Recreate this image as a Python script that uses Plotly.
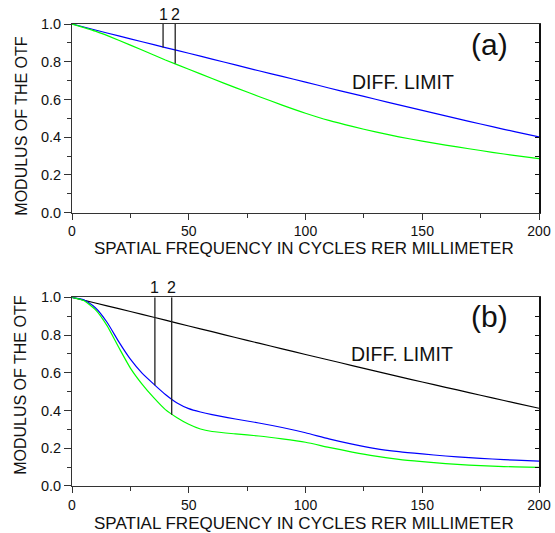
import plotly.graph_objects as go

FONT = "Liberation Sans, Arial, sans-serif"

# ---------------- data ----------------
freq = [0, 10, 20, 30, 40, 50, 60, 70, 80, 90, 100, 110, 120, 130, 140, 150, 160, 170, 180, 190, 200]

# panel (a)
a_diff = [1.0, 0.968, 0.937, 0.906, 0.875, 0.845, 0.814, 0.783, 0.752, 0.722, 0.692,
          0.661, 0.631, 0.601, 0.571, 0.542, 0.513, 0.484, 0.456, 0.428, 0.402]
a_green = [1.0, 0.962, 0.914, 0.862, 0.809, 0.760, 0.711, 0.663, 0.616, 0.570, 0.527,
           0.489, 0.457, 0.428, 0.402, 0.379, 0.358, 0.339, 0.320, 0.302, 0.286]

# panel (b)
freq_b = [0, 5, 10, 15, 20, 25, 30, 35, 40, 45, 50, 55, 60, 70, 80, 90, 100,
          110, 120, 130, 140, 150, 160, 170, 180, 190, 200]
b_blue = [1.0, 0.987, 0.945, 0.868, 0.765, 0.672, 0.598, 0.540, 0.485, 0.440, 0.410, 0.392,
          0.378, 0.355, 0.334, 0.310, 0.282, 0.250, 0.222, 0.198, 0.182, 0.170, 0.159,
          0.150, 0.143, 0.137, 0.132]
b_green = [1.0, 0.983, 0.935, 0.850, 0.735, 0.625, 0.540, 0.468, 0.405, 0.362, 0.327, 0.302,
           0.289, 0.276, 0.265, 0.250, 0.232, 0.205, 0.180, 0.158, 0.141, 0.129, 0.119,
           0.111, 0.105, 0.101, 0.099]
b_diff = [1.0, 0.97, 0.94, 0.91, 0.879, 0.848, 0.818, 0.787, 0.757, 0.727, 0.697,
          0.668, 0.638, 0.609, 0.580, 0.551, 0.523, 0.495, 0.467, 0.439, 0.412]

# vertical marker lines "1" and "2"
a_mark_x = [39.0, 44.2]
a_mark_end = [0.876, 0.790]
b_mark_x = [35.5, 42.7]
b_mark_end = [0.534, 0.378]
mark_labels = ["1", "2"]

x_ticks = [0, 50, 100, 150, 200]
y_ticks = [0.0, 0.2, 0.4, 0.6, 0.8, 1.0]
x_title = "SPATIAL FREQUENCY IN CYCLES RER MILLIMETER"
y_title = "MODULUS OF THE OTF"

BLUE = "#0000ff"
GREEN = "#00ff00"
BLACK = "#000000"

fig = go.Figure()

def line(x, y, color, xa, ya):
    fig.add_trace(go.Scatter(x=x, y=y, mode="lines", line=dict(color=color, width=1.2, shape="spline", smoothing=0.6),
                             xaxis=xa, yaxis=ya, showlegend=False, hoverinfo="skip"))

# panel a
line(freq, a_diff, BLUE, "x", "y")
line(freq, a_green, GREEN, "x", "y")
for mx, me in zip(a_mark_x, a_mark_end):
    fig.add_trace(go.Scatter(x=[mx, mx], y=[1.0, me], mode="lines", line=dict(color="#222", width=1.3),
                             xaxis="x", yaxis="y", showlegend=False, hoverinfo="skip"))
# panel b
line(freq, b_diff, BLACK, "x2", "y2")
line(freq_b, b_blue, BLUE, "x2", "y2")
line(freq_b, b_green, GREEN, "x2", "y2")
for mx, me in zip(b_mark_x, b_mark_end):
    fig.add_trace(go.Scatter(x=[mx, mx], y=[1.0, me], mode="lines", line=dict(color="#222", width=1.3),
                             xaxis="x2", yaxis="y2", showlegend=False, hoverinfo="skip"))
# dummy traces for right-side inner tick axes
fig.add_trace(go.Scatter(x=[None], y=[None], xaxis="x", yaxis="y3", showlegend=False, hoverinfo="skip"))
fig.add_trace(go.Scatter(x=[None], y=[None], xaxis="x2", yaxis="y4", showlegend=False, hoverinfo="skip"))

tickfont = dict(family=FONT, size=14, color="#111")
titlefont = dict(family=FONT, size=17, color="#111")
ytitlefont = dict(family=FONT, size=16, color="#111")

def xaxis(anchor):
    return dict(anchor=anchor, domain=[0, 1], range=[0, 200], tickvals=x_ticks,
                ticks="outside", ticklen=6, tickwidth=1, tickcolor="#333",
                minor=dict(dtick=25, tick0=0, ticks="outside", ticklen=4, tickcolor="#333"),
                showline=True, linecolor="#333", linewidth=1, mirror=True,
                showgrid=False, zeroline=False, tickfont=tickfont, automargin=False)

def yaxis(anchor, dom):
    return dict(anchor=anchor, domain=dom, range=[0, 1], tickvals=y_ticks, tickformat=".1f",
                ticks="outside", ticklen=7, tickwidth=1, tickcolor="#333",
                minor=dict(dtick=0.1, tick0=0, ticks="outside", ticklen=4, tickcolor="#333"),
                showline=True, linecolor="#333", linewidth=1, mirror=False,
                showgrid=False, zeroline=False, tickfont=dict(family=FONT, size=14.5, color="#111"),
                automargin=False)

def yright(anchor, over):
    return dict(anchor=anchor, overlaying=over, side="right", range=[0, 1], dtick=0.1, tick0=0,
                ticks="inside", ticklen=4, tickwidth=1, tickcolor="#111", showticklabels=False,
                showline=True, linecolor="#111", linewidth=2, showgrid=False, zeroline=False,
                automargin=False)

dom_a = [0.5916, 1.0]
dom_b = [0.0, 0.4084]

annotations = []
for lab, mx in zip(mark_labels, a_mark_x):
    annotations.append(dict(x=mx, y=1.0, xref="x", yref="y", text=lab, showarrow=False,
                            yanchor="bottom", yshift=-1, font=dict(family=FONT, size=16, color="#111")))
for lab, mx in zip(mark_labels, b_mark_x):
    annotations.append(dict(x=mx, y=1.0, xref="x2", yref="y2", text=lab, showarrow=False,
                            yanchor="bottom", yshift=-1, font=dict(family=FONT, size=16, color="#111")))
annotations += [
    dict(x=179, y=0.894, xref="x", yref="y", text="(a)", showarrow=False,
         font=dict(family=FONT, size=30, color="#111")),
    dict(x=141.6, y=0.693, xref="x", yref="y", text="DIFF. LIMIT", showarrow=False,
         font=dict(family=FONT, size=19.5, color="#111")),
    dict(x=179, y=0.897, xref="x2", yref="y2", text="(b)", showarrow=False,
         font=dict(family=FONT, size=30, color="#111")),
    dict(x=141.5, y=0.698, xref="x2", yref="y2", text="DIFF. LIMIT", showarrow=False,
         font=dict(family=FONT, size=19.5, color="#111")),
    # x-axis titles
    dict(x=0.497, y=0.513, xref="paper", yref="paper", text=x_title, showarrow=False,
         xanchor="center", yanchor="middle", font=titlefont),
    dict(x=0.497, y=-0.0812, xref="paper", yref="paper", text=x_title, showarrow=False,
         xanchor="center", yanchor="middle", font=titlefont),
    # y-axis titles
    dict(x=-0.109, y=0.778, xref="paper", yref="paper", text=y_title, showarrow=False,
         textangle=-90, xanchor="center", yanchor="middle", font=ytitlefont),
    dict(x=-0.109, y=0.217, xref="paper", yref="paper", text=y_title, showarrow=False,
         textangle=-90, xanchor="center", yanchor="middle", font=ytitlefont),
]

fig.update_layout(
    width=555, height=533,
    margin=dict(l=72, r=15.5, t=24, b=47, autoexpand=False),
    paper_bgcolor="white", plot_bgcolor="white",
    xaxis=xaxis("y"), yaxis=yaxis("x", dom_a),
    xaxis2=xaxis("y2"), yaxis2=yaxis("x2", dom_b),
    yaxis3=yright("x", "y"), yaxis4=yright("x2", "y2"),
    annotations=annotations,
    font=dict(family=FONT),
)

fig.write_html("out.html", config={"displayModeBar": False},
               post_script="document.body.style.margin='0';")
